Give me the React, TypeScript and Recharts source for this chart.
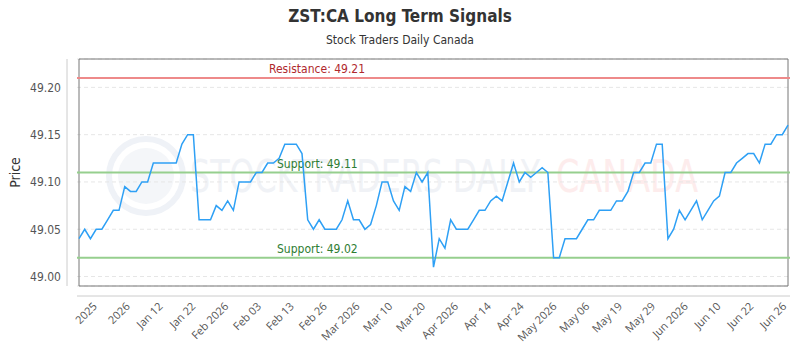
import { LineChart, Line, XAxis, YAxis, CartesianGrid, ReferenceLine, ReferenceArea } from 'recharts'

const PRICES = [
  49.04, 49.05, 49.04, 49.05, 49.05, 49.06, 49.07, 49.07, 49.095, 49.09,
  49.09, 49.1, 49.1, 49.12, 49.12, 49.12, 49.12, 49.12, 49.14, 49.15,
  49.15, 49.06, 49.06, 49.06, 49.075, 49.07, 49.08, 49.07, 49.1, 49.1,
  49.1, 49.11, 49.11, 49.12, 49.12, 49.125, 49.14, 49.14, 49.14, 49.13,
  49.06, 49.05, 49.06, 49.05, 49.05, 49.05, 49.06, 49.08, 49.06, 49.06,
  49.05, 49.055, 49.075, 49.1, 49.1, 49.08, 49.07, 49.095, 49.09, 49.11,
  49.1, 49.11, 49.01, 49.04, 49.03, 49.06, 49.05, 49.05, 49.05, 49.06,
  49.07, 49.07, 49.08, 49.085, 49.08, 49.1, 49.12, 49.1, 49.11, 49.105,
  49.11, 49.115, 49.11, 49.02, 49.02, 49.04, 49.04, 49.04, 49.05, 49.06,
  49.06, 49.07, 49.07, 49.07, 49.08, 49.08, 49.09, 49.11, 49.11, 49.12,
  49.12, 49.14, 49.14, 49.04, 49.05, 49.07, 49.06, 49.07, 49.08, 49.06,
  49.07, 49.08, 49.085, 49.11, 49.11, 49.12, 49.125, 49.13, 49.13, 49.12,
  49.14, 49.14, 49.15, 49.15, 49.16,
]

const TICK_LABELS = [
  '2025', '2026', 'Jan 12', 'Jan 22', 'Feb 2026', 'Feb 03', 'Feb 13', 'Feb 26',
  'Mar 2026', 'Mar 10', 'Mar 20', 'Apr 2026', 'Apr 14', 'Apr 24', 'May 2026',
  'May 06', 'May 19', 'May 29', 'Jun 2026', 'Jun 10', 'Jun 22', 'Jun 26',
]
// first / last label position, in data-point units
const TICK_FIRST = 2.94
const TICK_LAST = 123.5

const Y_TICKS = [49.0, 49.05, 49.1, 49.15, 49.2]
const Y_DOMAIN = [48.99, 49.23]

const RESISTANCE = [49.21]
const SUPPORTS = [49.11, 49.02]

const data = PRICES.map((price, i) => ({ i, price }))
const xTicks = TICK_LABELS.map((_, k) => TICK_FIRST + (k * (TICK_LAST - TICK_FIRST)) / (TICK_LABELS.length - 1))

const NARROW = "'Liberation Sans Narrow', 'DejaVu Sans Condensed', 'Roboto', sans-serif"
const OPEN = "'Open Sans', sans-serif"

// plot area
const PL = 77
const PR = 790
const PT = 59
const PB = 286

function XTick(props: any) {
  const { x, y, index } = props
  return (
    <text
      x={x + 2}
      y={y + 13}
      transform={`rotate(-45, ${x + 2}, ${y + 13})`}
      textAnchor="end"
      fontSize={11}
      fontFamily={OPEN}
      fill="#555"
    >
      {TICK_LABELS[index]}
    </text>
  )
}

function lineLabel(text: string, color: string, dx: number) {
  return (props: any) => {
    const { viewBox } = props
    return (
      <text x={viewBox.x + dx} y={viewBox.y - 5} fontSize={12} fontFamily={NARROW} fill={color}>
        {text}
      </text>
    )
  }
}

export default function App() {
  return (
    <div style={{ position: 'absolute', left: 0, top: 0, width: 800, height: 350, background: '#fff' }}>
      <svg width={800} height={350} style={{ position: 'absolute', left: 0, top: 0 }}>
        <text x={400} y={22} textAnchor="middle" fontSize={17} fontWeight="bold" fontFamily={NARROW} fill="#333">
          ZST:CA Long Term Signals
        </text>
        <text x={400} y={44} textAnchor="middle" fontSize={12} fontFamily={NARROW} fill="#333">
          Stock Traders Daily Canada
        </text>
        {/* watermark */}
        <circle cx={146} cy={176} r={37} fill="none" stroke="#eff2f7" strokeWidth={6} />
        <circle cx={146} cy={176} r={28} fill="#f4f6f9" />
        <text x={190} y={192} fontSize={44} fontFamily={NARROW} fill="#f0f2f6" textLength={350} lengthAdjust="spacingAndGlyphs">
          STOCKTRADERS DAILY
        </text>
        <text x={556} y={192} fontSize={44} fontFamily={NARROW} fill="#fdecec" textLength={142} lengthAdjust="spacingAndGlyphs">
          CANADA
        </text>
        <text
          x={20}
          y={(PT + PB) / 2}
          transform={`rotate(-90, 20, ${(PT + PB) / 2})`}
          textAnchor="middle"
          fontSize={14}
          fontFamily={NARROW}
          fill="#333"
        >
          Price
        </text>
        <line x1={67} y1={PT} x2={67} y2={PB} stroke="#ccc" />
        <line x1={PL} y1={296} x2={PR} y2={296} stroke="#ccc" />
      </svg>
      <div style={{ position: 'absolute', left: 0, top: 0 }}>
        <LineChart width={800} height={350} data={data} margin={{ top: PT, right: 800 - PR, left: 17, bottom: 0 }}>
          <CartesianGrid vertical={false} stroke="#e6e6e6" strokeDasharray="4 3" />
          <XAxis
            dataKey="i"
            type="number"
            domain={[0, PRICES.length - 1]}
            ticks={xTicks}
            tick={<XTick />}
            axisLine={false}
            tickLine={false}
            height={350 - PB}
            padding={{ left: 2, right: 2 }}
            interval={0}
          />
          <YAxis
            type="number"
            domain={Y_DOMAIN}
            ticks={Y_TICKS}
            allowDataOverflow
            width={60}
            axisLine={false}
            tickLine={false}
            tickMargin={10}
            tickFormatter={(v: number) => v.toFixed(2)}
            tick={{ fontSize: 12, fontFamily: NARROW, fill: '#555' }}
          />
          <ReferenceArea y1={Y_DOMAIN[0]} y2={Y_DOMAIN[1]} fill="none" stroke="#777" strokeWidth={1} />
          <ReferenceLine
            y={RESISTANCE[0]}
            stroke="#ee8a8a"
            strokeWidth={2}
            label={lineLabel('Resistance: ' + RESISTANCE[0].toFixed(2), '#b0282d', 192)}
          />
          {SUPPORTS.map((s) => (
            <ReferenceLine
              key={s}
              y={s}
              stroke="#96cf8e"
              strokeWidth={2}
              label={lineLabel('Support: ' + s.toFixed(2), '#2e7d32', 200)}
            />
          ))}
          <Line
            type="linear"
            dataKey="price"
            stroke="#2ea0f5"
            strokeWidth={1.5}
            dot={false}
            isAnimationActive={false}
          />
        </LineChart>
      </div>
    </div>
  )
}
